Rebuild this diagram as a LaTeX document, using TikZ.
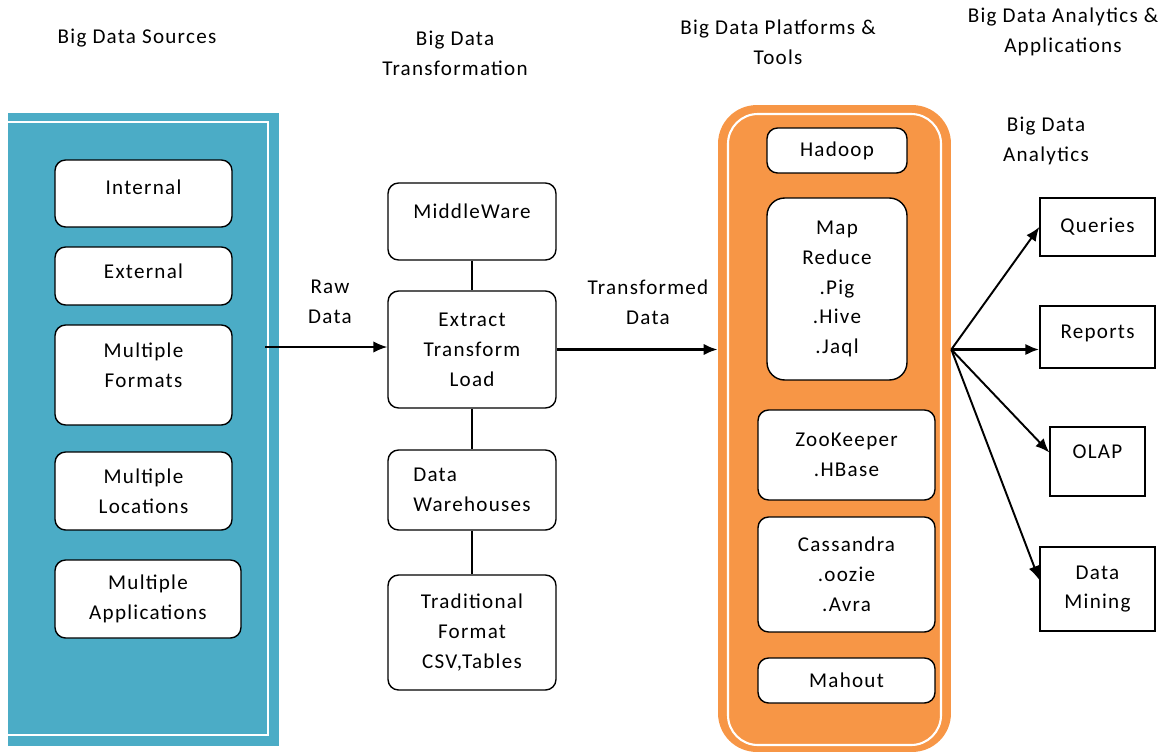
\documentclass[tikz,border=0pt]{standalone}
\usepackage{fontspec}
\setmainfont[LetterSpace=6]{Carlito}
\usetikzlibrary{arrows.meta}
\definecolor{srcblue}{HTML}{4BACC6}
\definecolor{toolorange}{HTML}{F79646}

\begin{document}
\begin{tikzpicture}[x=0.02cm,y=-0.02cm,
  every node/.style={font=\fontsize{12}{17}\selectfont,align=center,inner sep=0pt},
  rbox/.style={draw,fill=white,line width=0.8pt,rounded corners=6pt},
  sbox/.style={draw,fill=white,line width=0.8pt},
  flow/.style={-{Latex[length=2.8mm,width=2.3mm]},line width=1.1pt}]
  \useasboundingbox (0,0) rectangle (1170,754);
  % column titles
  \node (tsrc) at (137,38) {Big Data Sources};
  \node (ttrans) at (455,53) {Big Data\\Transformation};
  \node (ttools) at (778,42) {Big Data Platforms \&\\Tools};
  \node (tapps) at (1063,32) {Big Data Analytics \&\\Applications};
  \node (tanal) at (1046,141) {Big Data\\Analytics};
  % sources panel
  \node[fill=srcblue,minimum width=5.42cm,minimum height=12.66cm] (srcpanel) at (143.5,429.5) {};
  \draw[white,line width=1.2pt] (8,122) -- (268,122) -- (268,735) -- (8,735);
  \node[rbox,minimum width=3.54cm,minimum height=1.34cm,text depth=0.26cm] (internal) at (143.5,193.5) {Internal};
  \node[rbox,minimum width=3.54cm,minimum height=1.16cm,text depth=0.2cm] (external) at (143.5,276) {External};
  \node[rbox,minimum width=3.54cm,minimum height=2cm] (formats) at (143.5,375) {Multiple\\Formats\\[-6pt]};
  \node[rbox,minimum width=3.54cm,minimum height=1.56cm] (locations) at (143.5,491) {Multiple\\Locations};
  \node[rbox,minimum width=3.72cm,minimum height=1.56cm] (apps) at (148,599) {Multiple\\Applications};
  % transformation column
  \node[rbox,minimum width=3.36cm,minimum height=1.54cm,text depth=0.42cm] (mw) at (472,221.5) {MiddleWare};
  \node[rbox,minimum width=3.36cm,minimum height=2.34cm] (etl) at (472,349.5) {Extract\\Transform\\Load};
  \node[rbox,minimum width=3.36cm,minimum height=1.6cm,align=left] (dw) at (472,490) {Data\\Warehouses};
  \node[rbox,minimum width=3.36cm,minimum height=2.3cm] (trad) at (472,632.5) {Traditional\\Format\\CSV,Tables};
  \draw[line width=0.8pt] (mw) -- (etl);
  \draw[line width=0.8pt] (etl) -- (dw);
  \draw[line width=0.8pt] (dw) -- (trad);
  % platforms panel
  \node[fill=toolorange,rounded corners=22pt,minimum width=4.66cm,minimum height=12.94cm] (platform) at (834.5,428.5) {};
  \draw[white,line width=1.2pt,rounded corners=17pt] (728,114) rectangle (941,745);
  \node[rbox,minimum width=2.8cm,minimum height=0.9cm] (hadoop) at (837,150.5) {Hadoop};
  \node[rbox,rounded corners=10pt,minimum width=2.8cm,minimum height=3.64cm] (mapred) at (837,289) {Map\\Reduce\\.Pig\\.Hive\\.Jaql};
  \node[rbox,minimum width=3.54cm,minimum height=1.8cm] (zoo) at (846.5,455) {ZooKeeper\\.HBase};
  \node[rbox,minimum width=3.54cm,minimum height=2.3cm] (cass) at (846.5,574.5) {Cassandra\\.oozie\\.Avra};
  \node[rbox,minimum width=3.54cm,minimum height=0.9cm] (mahout) at (846.5,680.5) {Mahout};
  % analytics boxes
  \node[sbox,minimum width=2.3cm,minimum height=1.16cm] (queries) at (1097.5,227) {Queries};
  \node[sbox,minimum width=2.3cm,minimum height=1.24cm,text depth=0.2cm] (reports) at (1097.5,337) {Reports};
  \node[sbox,minimum width=1.9cm,minimum height=1.38cm,text depth=0.38cm] (olap) at (1097.5,461.5) {OLAP};
  \node[sbox,minimum width=2.3cm,minimum height=1.68cm] (mining) at (1097.5,589) {Data\\Mining};
  % data flow
  \coordinate (rawstart) at (265,347);
  \draw[flow] (rawstart) -- (rawstart -| etl.west);
  \node (raw) at (330,302) {Raw\\Data};
  \draw[flow,line width=2.2pt] (etl.east) -- (etl.east -| platform.west);
  \node (transformed) at (648,302) {Transformed\\Data};
  \coordinate (hub) at (platform.east |- etl.east);
  \draw[flow] (hub) -- (queries.west);
  \draw[flow,line width=1.6pt] (hub) -- (hub -| reports.west);
  \draw[flow] (hub) -- ([yshift=0.18cm]olap.west);
  \draw[flow] (hub) -- ([yshift=0.18cm]mining.west);
\end{tikzpicture}
\end{document}
